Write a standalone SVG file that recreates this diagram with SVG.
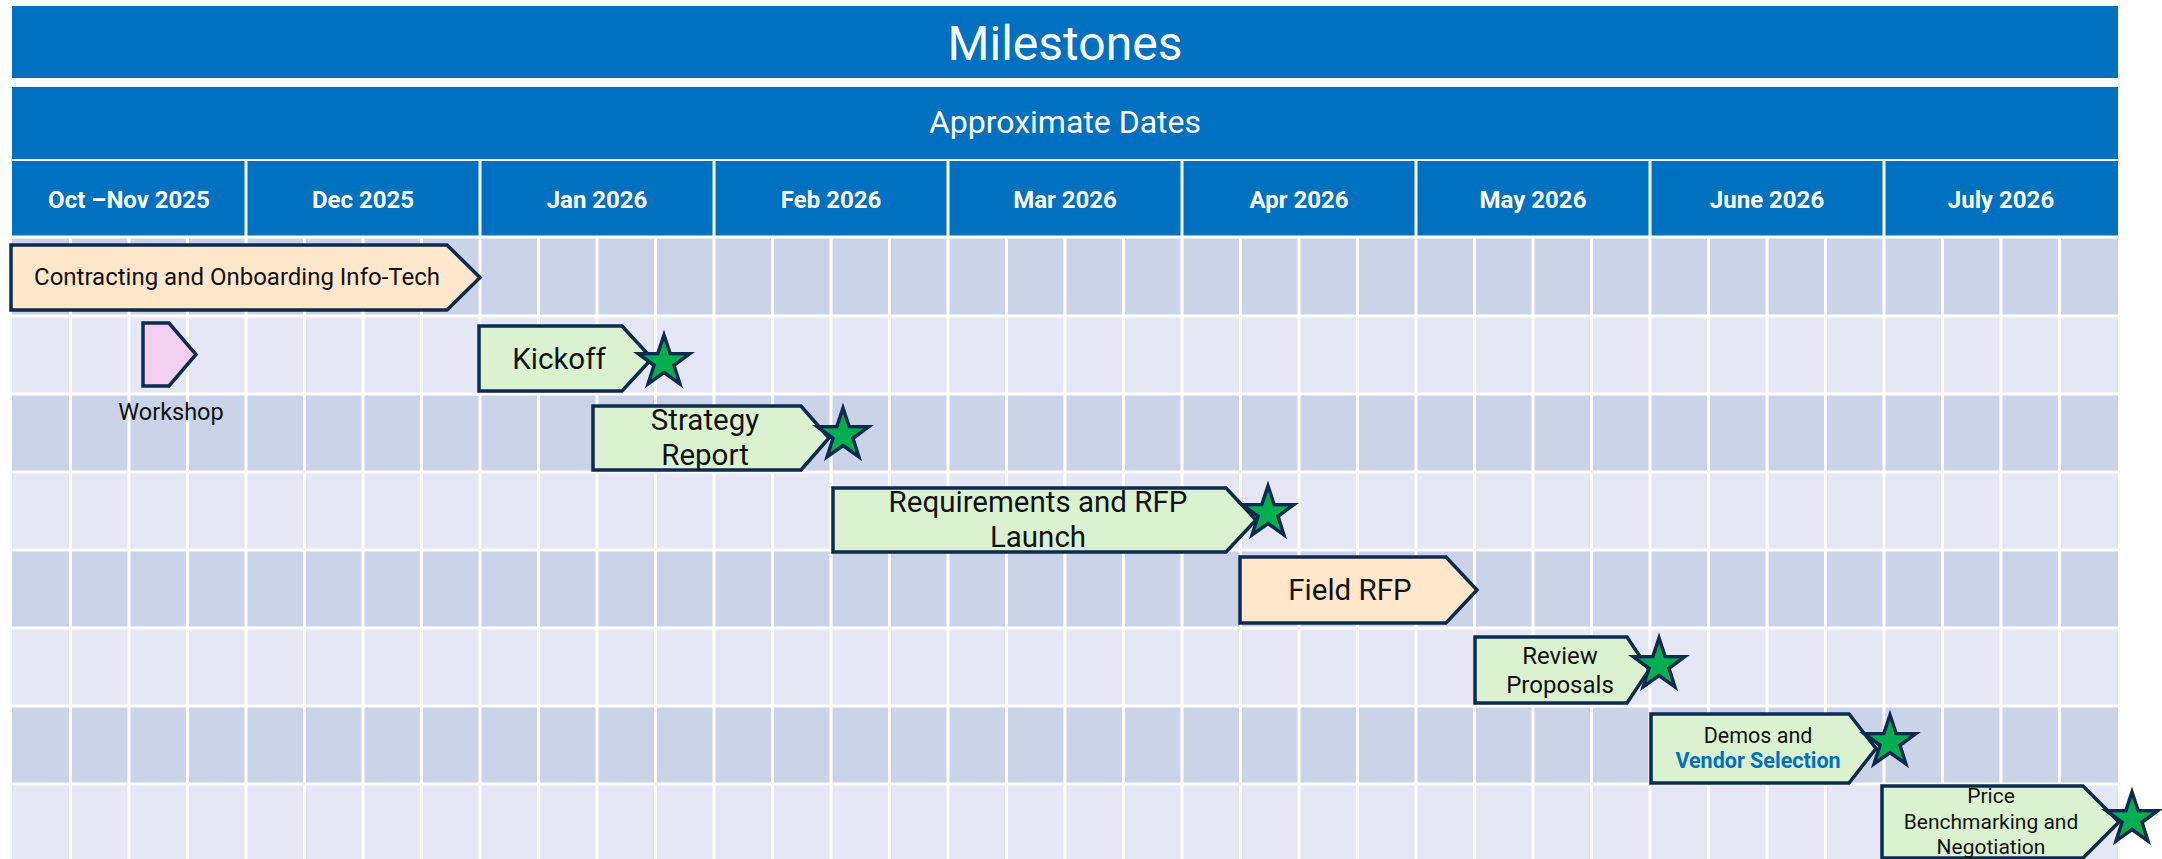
<svg xmlns="http://www.w3.org/2000/svg" width="2162" height="859" viewBox="0 0 2162 859">
<style>
.hdr{fill:#0070C0}
.t-title{font-family:Roboto,"Liberation Sans",sans-serif;fill:#fff;text-anchor:middle}
.t-month{font-family:Roboto,"Liberation Sans",sans-serif;font-weight:bold;font-size:24px;fill:#fff;text-anchor:middle}
.sep{stroke:#fff;stroke-width:3}
.rowA{fill:#CAD3E8}
.rowB{fill:#E5E8F4}
.shape{stroke:#0E2A4F;stroke-width:3.5;stroke-linejoin:miter}
.green{fill:#DAF2D0}
.peach{fill:#FEE7CB}
.pink{fill:#F2CEEF}
.lbl{font-family:Roboto,"Liberation Sans",sans-serif;fill:#111;text-anchor:middle}
.big{font-size:29.5px}
.star{fill:#00B050;stroke:#0E2A4F;stroke-width:3.5;stroke-linejoin:miter}
</style>
<defs>
<path id="star" d="M0,-27 L6.17,-8.49 L25.68,-8.34 L9.99,3.24 L15.87,21.84 L0,10.5 L-15.87,21.84 L-9.99,3.24 L-25.68,-8.34 L-6.17,-8.49 Z"/>
</defs>
<rect width="2162" height="859" fill="#fff"/>
<g id="header">
<rect class="hdr" x="12" y="6" width="2106" height="72"/>
<text class="t-title" x="1065" y="60" font-size="48">Milestones</text>
<rect class="hdr" x="12" y="87" width="2106" height="72"/>
<text class="t-title" x="1065" y="133" font-size="32">Approximate Dates</text>
<rect class="hdr" x="12" y="161" width="2106" height="75"/>
<g class="sep">
<line x1="246" y1="161" x2="246" y2="236"/>
<line x1="480" y1="161" x2="480" y2="236"/>
<line x1="714" y1="161" x2="714" y2="236"/>
<line x1="948" y1="161" x2="948" y2="236"/>
<line x1="1182" y1="161" x2="1182" y2="236"/>
<line x1="1416" y1="161" x2="1416" y2="236"/>
<line x1="1650" y1="161" x2="1650" y2="236"/>
<line x1="1884" y1="161" x2="1884" y2="236"/>
</g>
<text class="t-month" x="129" y="208">Oct –Nov 2025</text>
<text class="t-month" x="363" y="208">Dec 2025</text>
<text class="t-month" x="597" y="208">Jan 2026</text>
<text class="t-month" x="831" y="208">Feb 2026</text>
<text class="t-month" x="1065" y="208">Mar 2026</text>
<text class="t-month" x="1299" y="208">Apr 2026</text>
<text class="t-month" x="1533" y="208">May 2026</text>
<text class="t-month" x="1767" y="208">June 2026</text>
<text class="t-month" x="2001" y="208">July 2026</text>
</g>
<g id="grid">
<rect class="rowA" x="12" y="238" width="2106" height="78"/>
<rect class="rowB" x="12" y="316" width="2106" height="78"/>
<rect class="rowA" x="12" y="394" width="2106" height="78"/>
<rect class="rowB" x="12" y="472" width="2106" height="78"/>
<rect class="rowA" x="12" y="550" width="2106" height="78"/>
<rect class="rowB" x="12" y="628" width="2106" height="78"/>
<rect class="rowA" x="12" y="706" width="2106" height="78"/>
<rect class="rowB" x="12" y="784" width="2106" height="78"/>
<g class="sep">
<line x1="12" y1="237" x2="2118" y2="237"/>
<line x1="12" y1="316" x2="2118" y2="316"/>
<line x1="12" y1="394" x2="2118" y2="394"/>
<line x1="12" y1="472" x2="2118" y2="472"/>
<line x1="12" y1="550" x2="2118" y2="550"/>
<line x1="12" y1="628" x2="2118" y2="628"/>
<line x1="12" y1="706" x2="2118" y2="706"/>
<line x1="12" y1="784" x2="2118" y2="784"/>
<line x1="70.5" y1="237" x2="70.5" y2="859"/>
<line x1="129" y1="237" x2="129" y2="859"/>
<line x1="187.5" y1="237" x2="187.5" y2="859"/>
<line x1="246" y1="237" x2="246" y2="859"/>
<line x1="304.5" y1="237" x2="304.5" y2="859"/>
<line x1="363" y1="237" x2="363" y2="859"/>
<line x1="421.5" y1="237" x2="421.5" y2="859"/>
<line x1="480" y1="237" x2="480" y2="859"/>
<line x1="538.5" y1="237" x2="538.5" y2="859"/>
<line x1="597" y1="237" x2="597" y2="859"/>
<line x1="655.5" y1="237" x2="655.5" y2="859"/>
<line x1="714" y1="237" x2="714" y2="859"/>
<line x1="772.5" y1="237" x2="772.5" y2="859"/>
<line x1="831" y1="237" x2="831" y2="859"/>
<line x1="889.5" y1="237" x2="889.5" y2="859"/>
<line x1="948" y1="237" x2="948" y2="859"/>
<line x1="1006.5" y1="237" x2="1006.5" y2="859"/>
<line x1="1065" y1="237" x2="1065" y2="859"/>
<line x1="1123.5" y1="237" x2="1123.5" y2="859"/>
<line x1="1182" y1="237" x2="1182" y2="859"/>
<line x1="1240.5" y1="237" x2="1240.5" y2="859"/>
<line x1="1299" y1="237" x2="1299" y2="859"/>
<line x1="1357.5" y1="237" x2="1357.5" y2="859"/>
<line x1="1416" y1="237" x2="1416" y2="859"/>
<line x1="1474.5" y1="237" x2="1474.5" y2="859"/>
<line x1="1533" y1="237" x2="1533" y2="859"/>
<line x1="1591.5" y1="237" x2="1591.5" y2="859"/>
<line x1="1650" y1="237" x2="1650" y2="859"/>
<line x1="1708.5" y1="237" x2="1708.5" y2="859"/>
<line x1="1767" y1="237" x2="1767" y2="859"/>
<line x1="1825.5" y1="237" x2="1825.5" y2="859"/>
<line x1="1884" y1="237" x2="1884" y2="859"/>
<line x1="1942.5" y1="237" x2="1942.5" y2="859"/>
<line x1="2001" y1="237" x2="2001" y2="859"/>
<line x1="2059.5" y1="237" x2="2059.5" y2="859"/>
</g>
</g>
<g id="connectors"></g>
<g id="contracting">
<path class="shape peach" d="M11,245 H447 L480,277.5 L447,310 H11 Z"/>
<text class="lbl" x="237" y="285" font-size="24">Contracting and Onboarding Info-Tech</text>
</g>
<g id="workshop">
<path class="shape pink" d="M143,323 H169 L196,354.5 L169,386 H143 Z"/>
<text class="lbl" x="171" y="420" font-size="23.5">Workshop</text>
</g>
<g id="kickoff">
<path class="shape green" d="M479,326 H622 L652,358.5 L622,391 H479 Z"/>
<text class="lbl big" x="559" y="369">Kickoff</text>
<use href="#star" class="star" x="664" y="362"/>
</g>
<g id="strategy">
<path class="shape green" d="M593,406 H801 L829,438 L801,470 H593 Z"/>
<text class="lbl big" x="705" y="430">Strategy</text>
<text class="lbl big" x="705" y="465">Report</text>
<use href="#star" class="star" x="843" y="435"/>
</g>
<g id="requirements">
<path class="shape green" d="M833,488 H1226 L1256,520 L1226,552 H833 Z"/>
<text class="lbl big" x="1038" y="512">Requirements and RFP</text>
<text class="lbl big" x="1038" y="547">Launch</text>
<use href="#star" class="star" x="1268" y="513"/>
</g>
<g id="field-rfp">
<path class="shape peach" d="M1240,557 H1446 L1477,590 L1446,623 H1240 Z"/>
<text class="lbl big" x="1350" y="600">Field RFP</text>
</g>
<g id="review">
<path class="shape green" d="M1475,637 H1627 L1649,670 L1627,703 H1475 Z"/>
<text class="lbl" x="1560" y="664" font-size="24">Review</text>
<text class="lbl" x="1560" y="693" font-size="24">Proposals</text>
<use href="#star" class="star" x="1659" y="665"/>
</g>
<g id="demos">
<path class="shape green" d="M1651,714 H1849 L1876,748.5 L1849,783 H1651 Z"/>
<text class="lbl" x="1758" y="743" font-size="21.5">Demos and</text>
<text class="lbl" x="1758" y="768" font-size="21.5" font-weight="bold" style="fill:#0070C0">Vendor Selection</text>
<use href="#star" class="star" x="1890" y="742"/>
</g>
<g id="price">
<path class="shape green" d="M1882,786 H2083 L2119,822 L2083,858 H1882 Z"/>
<text class="lbl" x="1991" y="803" font-size="21">Price</text>
<text class="lbl" x="1991" y="829" font-size="21">Benchmarking and</text>
<text class="lbl" x="1991" y="854" font-size="21">Negotiation</text>
<use href="#star" class="star" x="2132" y="819"/>
</g>
</svg>
